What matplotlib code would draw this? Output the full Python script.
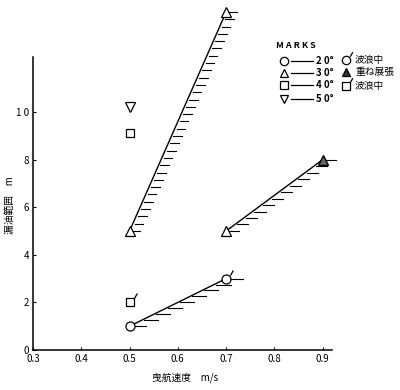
import matplotlib
matplotlib.use('Agg')
import matplotlib.pyplot as plt
import numpy as np
from matplotlib.path import Path

plt.rcParams['font.family'] = ['Noto Sans CJK JP', 'DejaVu Sans']

# data (towing speed m/s, spill range m)
x_20 = [0.5, 0.7]
y_20 = [1.0, 3.0]
x_30a = [0.5, 0.7]
y_30a = [5.0, 14.2]
x_30b = [0.7, 0.9]
y_30b = [5.0, 8.0]
x_40 = [0.5, 0.5]
y_40 = [9.1, 2.0]
x_50 = [0.5]
y_50 = [10.2]

xticks = [0.3, 0.4, 0.5, 0.6, 0.7, 0.8, 0.9]
xtick_labels = ['0.3', '0.4', '0.5', '0.6', '0.7', '0.8', '0.9']
yticks = [0, 2, 4, 6, 8, 10]
ytick_labels = ['0', '2', '4', '6', '8', '1 0']

fig = plt.figure(figsize=(4.0, 3.9), dpi=100)
ax = fig.add_axes([33 / 400, 40 / 390, 367 / 400, 348 / 390])
ax.set_xlim(0.3, 1.06)
ax.set_ylim(0, 14.62)

# slash marker for "in waves"
slash = Path([(0.55, 0.55), (0.95, 1.25)])


def hatched_line(xs, ys, n, length, gap=0.004):
    ax.plot(xs, ys, color='black', lw=1.0)
    t = np.linspace(0, 1, n)
    hx = xs[0] + t * (xs[1] - xs[0])
    hy = ys[0] + t * (ys[1] - ys[0])
    for a, b in zip(hx, hy):
        ax.plot([a + gap, a + length], [b, b], color='black', lw=0.8)


hatched_line(x_20, y_20, 9, 0.034)
hatched_line(x_30a, y_30a, 31, 0.022)
hatched_line(x_30b, y_30b, 12, 0.027)

mk = dict(color='black', markerfacecolor='white', markeredgecolor='black',
          markeredgewidth=0.9, linestyle='none', zorder=5)
ax.plot(x_20, y_20, marker='o', markersize=6.5, **mk)
ax.plot(x_30a, y_30a, marker='^', markersize=7, **mk)
ax.plot(x_30b[0], y_30b[0], marker='^', markersize=7, **mk)
ax.plot(x_30b[1], y_30b[1], marker='^', markersize=7.5, color='black',
        markerfacecolor='#666666', markeredgecolor='black', linestyle='none', zorder=5)
ax.plot(x_40, y_40, marker='s', markersize=6, **mk)
ax.plot(x_50, y_50, marker='v', markersize=6.5, **mk)
# wave slashes
ax.plot([x_20[1]], [y_20[1]], marker=slash, markersize=13, markerfacecolor='none',
        markeredgecolor='black', markeredgewidth=0.9, linestyle='none', zorder=6)
ax.plot([x_40[1]], [y_40[1]], marker=slash, markersize=13, markerfacecolor='none',
        markeredgecolor='black', markeredgewidth=0.9, linestyle='none', zorder=6)

for s in ['top', 'right']:
    ax.spines[s].set_visible(False)
ax.spines['left'].set_bounds(0, 12.3)
ax.spines['bottom'].set_bounds(0.3, 0.92)
ax.spines['left'].set_linewidth(1.1)
ax.spines['bottom'].set_linewidth(1.1)

ax.set_xticks(xticks)
ax.set_xticklabels(xtick_labels)
ax.set_yticks(yticks)
ax.set_yticklabels(ytick_labels)
ax.tick_params(direction='in', length=2, width=0.8, labelsize=7, pad=3)

fig.text(185 / 400, 1 - 378 / 390, '曳航速度　m/s', fontsize=7, ha='center', va='center')
fig.text(10 / 400, 1 - 205 / 390, '漏油範囲　m', fontsize=7, ha='center', va='center',
         rotation=90)


# legend box, drawn in figure pixels
def fx(px):
    return px / 400


def fy(py):
    return 1 - py / 390


fig.text(fx(276), fy(45), 'M A R K S', fontsize=6.5, fontweight='bold', va='center')
leg_markers = ['o', '^', 's', 'v']
leg_labels = ['2 0°', '3 0°', '4 0°', '5 0°']
leg_y = [61, 73, 85, 99]
for m, lab, yy in zip(leg_markers, leg_labels, leg_y):
    fig.add_artist(plt.Line2D([fx(284)], [fy(yy)], marker=m, markersize=6,
                              markerfacecolor='white', markeredgecolor='black',
                              markeredgewidth=0.9, linestyle='none'))
    fig.add_artist(plt.Line2D([fx(291), fx(313)], [fy(yy), fy(yy)], color='black', lw=0.9))
    fig.text(fx(316), fy(yy), lab, fontsize=7, fontweight='bold', va='center')

side_markers = ['o', '^', 's']
side_labels = ['波浪中', '重ね展張', '波浪中']
side_y = [60, 72, 86]
for i, (m, lab, yy) in enumerate(zip(side_markers, side_labels, side_y)):
    face = '#333333' if i == 1 else 'white'
    fig.add_artist(plt.Line2D([fx(346)], [fy(yy)], marker=m, markersize=6,
                              markerfacecolor=face, markeredgecolor='black',
                              markeredgewidth=0.9, linestyle='none'))
    if i != 1:
        fig.add_artist(plt.Line2D([fx(346)], [fy(yy)], marker=slash, markersize=12,
                                  markerfacecolor='none', markeredgecolor='black',
                                  markeredgewidth=0.9, linestyle='none'))
    fig.text(fx(355), fy(yy), lab, fontsize=7, va='center')

fig.savefig('out.png', dpi=100)
